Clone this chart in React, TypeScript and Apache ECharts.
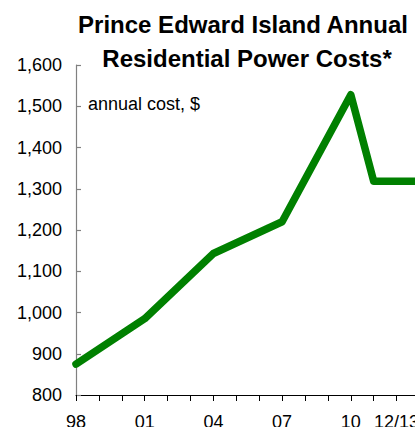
import React, { useEffect, useRef } from "react";
import * as echarts from "echarts";

const categories = ["98", "99", "00", "01", "02", "03", "04", "05", "06", "07", "08", "09", "10", "11", "12/13", "13/14"];
const costValues: (number | null)[] = [875, null, null, 985, null, null, 1143, null, null, 1220, null, null, 1528, 1318, 1318, 1318];
const shownLabels = ["98", "01", "04", "07", "10", "12/13"];
const titleLines = ["Prince Edward Island Annual", "Residential Power Costs*"];
const unitLabel = "annual cost, $";

const FONT = "'Liberation Sans', Arial, sans-serif";

export default function App() {
  const ref = useRef<HTMLDivElement>(null);
  useEffect(() => {
    document.body.style.margin = "0";
    const chart = echarts.init(ref.current!, undefined, { renderer: "svg" });
    chart.setOption({
      animation: false,
      backgroundColor: "#ffffff",
      grid: { left: 76, top: 65, bottom: 32, right: 20.5, containLabel: false, outerBoundsMode: "none" },
      graphic: [
        {
          type: "text",
          x: 243,
          y: 24.5,
          style: { text: titleLines[0], fontFamily: FONT, fontSize: 24, fontWeight: "bold", fill: "#000", align: "center", verticalAlign: "middle" },
        },
        {
          type: "text",
          x: 247,
          y: 58,
          style: { text: titleLines[1], fontFamily: FONT, fontSize: 24, fontWeight: "bold", fill: "#000", align: "center", verticalAlign: "middle" },
        },
        {
          type: "text",
          x: 88,
          y: 104,
          style: { text: unitLabel, fontFamily: FONT, fontSize: 18, fill: "#000", align: "left", verticalAlign: "middle" },
        },
      ],
      xAxis: {
        type: "category",
        data: categories,
        boundaryGap: false,
        axisLine: { lineStyle: { color: "#000", width: 1 } },
        axisTick: { show: true, interval: 0, length: 6, inside: false, lineStyle: { color: "#000", width: 1 } },
        axisLabel: {
          interval: (_i: number, v: string) => shownLabels.includes(v),
          fontFamily: FONT,
          fontSize: 18,
          color: "#000",
          margin: 18,
        },
        splitLine: { show: false },
      },
      yAxis: {
        type: "value",
        min: 800,
        max: 1600,
        interval: 100,
        axisLine: { show: true, lineStyle: { color: "#808080", width: 1.2 } },
        axisTick: { show: true, inside: true, length: 5, lineStyle: { color: "#808080", width: 1.2 } },
        axisLabel: {
          fontFamily: FONT,
          fontSize: 18,
          color: "#000",
          margin: 14,
          formatter: (v: number) => v.toLocaleString("en-US"),
        },
        splitLine: { show: false },
      },
      series: [
        {
          type: "line",
          data: costValues,
          connectNulls: true,
          symbol: "none",
          lineStyle: { color: "#008000", width: 7.5, cap: "round", join: "round" },
        },
      ],
    });
    return () => chart.dispose();
  }, []);
  return (
    <div style={{ width: 415, height: 427, overflow: "hidden", position: "relative" }}>
      <div ref={ref} style={{ width: 440, height: 427 }} />
    </div>
  );
}
